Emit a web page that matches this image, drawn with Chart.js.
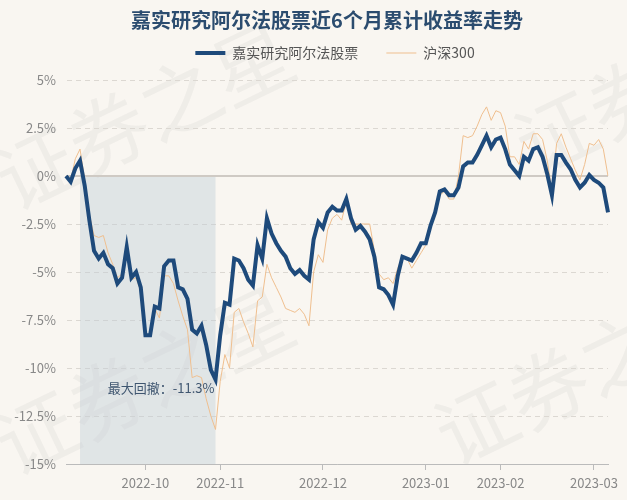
<!DOCTYPE html>
<html>
<head>
<meta charset="utf-8">
<script src="https://cdn.jsdelivr.net/npm/chart.js@4.4.0/dist/chart.umd.min.js"></script>
<style>
    html, body { margin: 0; padding: 0; background: #f9f6f1; }
    #wrap { width: 627px; height: 500px; }
</style>
</head>
<body>
<div id="wrap"><canvas id="trendChart" width="627" height="500"></canvas></div>
<script>
// Datos del gráfico (días hábiles)
const dates = [
    '2022-09-07','2022-09-08','2022-09-09','2022-09-13','2022-09-14','2022-09-15','2022-09-16','2022-09-19','2022-09-20','2022-09-21',
    '2022-09-22','2022-09-23','2022-09-26','2022-09-27','2022-09-28','2022-09-29','2022-09-30',
    '2022-10-10','2022-10-11','2022-10-12','2022-10-13','2022-10-14','2022-10-17','2022-10-18','2022-10-19','2022-10-20',
    '2022-10-21','2022-10-24','2022-10-25','2022-10-26','2022-10-27','2022-10-28','2022-10-31',
    '2022-11-01','2022-11-02','2022-11-03','2022-11-04','2022-11-07','2022-11-08','2022-11-09','2022-11-10','2022-11-11',
    '2022-11-14','2022-11-15','2022-11-16','2022-11-17','2022-11-18','2022-11-21','2022-11-22','2022-11-23','2022-11-24',
    '2022-11-25','2022-11-28','2022-11-29','2022-11-30',
    '2022-12-01','2022-12-02','2022-12-05','2022-12-06','2022-12-07','2022-12-08','2022-12-09','2022-12-12','2022-12-13',
    '2022-12-14','2022-12-15','2022-12-16','2022-12-19','2022-12-20','2022-12-21','2022-12-22','2022-12-23','2022-12-26',
    '2022-12-27','2022-12-28','2022-12-29','2022-12-30',
    '2023-01-03','2023-01-04','2023-01-05','2023-01-06','2023-01-09','2023-01-10','2023-01-11','2023-01-12','2023-01-13',
    '2023-01-16','2023-01-17','2023-01-18','2023-01-19','2023-01-20','2023-01-30','2023-01-31',
    '2023-02-01','2023-02-02','2023-02-03','2023-02-06','2023-02-07','2023-02-08','2023-02-09','2023-02-10','2023-02-13',
    '2023-02-14','2023-02-15','2023-02-16','2023-02-17','2023-02-20','2023-02-21','2023-02-22','2023-02-23','2023-02-24',
    '2023-02-27','2023-02-28',
    '2023-03-01','2023-03-02','2023-03-03','2023-03-06'
];

const fundReturns = [
    0.0, -0.3, 0.4, 0.8, -0.5, -2.3, -3.9, -4.3, -4.0, -4.6,
    -4.8, -5.6, -5.3, -3.7, -5.3, -5.0, -5.8, -8.3, -8.3, -6.8,
    -6.9, -4.7, -4.4, -4.4, -5.8, -5.9, -6.4, -8.0, -8.2, -7.8,
    -8.8, -10.1, -10.6, -8.3, -6.6, -6.7, -4.3, -4.4, -4.8, -5.4,
    -5.7, -3.6, -4.3, -2.2, -3.0, -3.5, -3.9, -4.2, -4.8, -5.1,
    -4.9, -5.2, -5.4, -3.3, -2.4, -2.7, -1.9, -1.6, -1.8, -1.8,
    -1.2, -2.2, -2.8, -2.6, -2.9, -3.3, -4.2, -5.8, -5.9, -6.2,
    -6.7, -5.2, -4.2, -4.3, -4.4, -4.0, -3.5, -3.5, -2.6, -1.9,
    -0.8, -0.7, -1.0, -1.0, -0.6, 0.5, 0.7, 0.7, 1.1, 1.6,
    2.1, 1.5, 1.9, 2.0, 1.4, 0.6, 0.3, 0.0, 1.0, 0.8,
    1.4, 1.5, 1.0, 0.1, -1.0, 1.1, 1.1, 0.7, 0.35, -0.2,
    -0.6, -0.35, 0.05, -0.2, -0.35, -0.6, -1.9
];

const hs300Returns = [
    0.0, -0.2, 0.9, 1.4, -0.2, -2.0, -3.1, -3.2, -3.1, -4.0,
    -4.6, -5.3, -5.1, -4.0, -5.4, -5.3, -6.0, -8.3, -8.3, -6.9,
    -7.4, -5.2, -5.2, -5.6, -6.5, -7.3, -8.0, -10.5, -10.4, -10.5,
    -11.6, -12.5, -13.2, -10.7, -9.3, -10.0, -7.1, -6.9, -7.6, -8.2,
    -8.9, -6.5, -6.3, -4.6, -5.3, -5.8, -6.3, -6.9, -7.0, -7.1,
    -6.9, -7.2, -7.8, -5.0, -4.1, -4.5, -2.8, -2.2, -2.0, -2.3,
    -1.3, -2.5, -2.5, -2.5, -2.5, -2.5, -3.9, -5.1, -5.4, -5.3,
    -5.6, -4.8, -4.2, -4.3, -4.8, -4.4, -4.0, -3.6, -2.6, -2.0,
    -1.0, -0.8, -1.2, -1.2, 0.0, 2.1, 2.0, 2.1, 2.6, 3.2,
    3.6, 2.9, 3.4, 3.3, 2.6, 1.0, 1.0, 0.6, 1.8, 1.4,
    2.2, 2.2, 1.9, 0.8, -0.8, 1.7, 2.2, 1.5, 0.9, 0.3,
    -0.2, 0.6, 1.7, 1.6, 1.9, 1.4, 0.0
];

const monthTicks = ['2022-10', '2022-11', '2022-12', '2023-01', '2023-02', '2023-03'];
const seriesNames = ['嘉实研究阿尔法股票', '沪深300'];
const drawdownText = '最大回撤：-11.3%';

// Índices del pico y del valle (máximo retroceso)
const peakIndex = 3;
const troughIndex = 32;

const FONT = '"Noto Sans CJK SC", "Noto Sans", sans-serif';

// Marca de agua de fondo
const watermarkPlugin = {
    id: 'watermark',
    beforeDraw(chart) {
        const ctx = chart.ctx;
        ctx.save();
        ctx.fillStyle = '#f9f6f1';
        ctx.fillRect(0, 0, chart.width, chart.height);
        ctx.fillStyle = 'rgba(170,170,170,0.12)';
        ctx.font = '80px ' + FONT;
        ctx.textBaseline = 'middle';
        [[0, 185], [520, 150], [0, 450], [440, 440]].forEach(p => {
            ctx.save();
            ctx.translate(p[0], p[1]);
            ctx.rotate(-0.45);
            ctx.fillText('证券之星', 0, 0);
            ctx.restore();
        });
        ctx.restore();
    }
};

// Centrado del título y la leyenda como en el original
const headerShiftPlugin = {
    id: 'headerShift',
    afterLayout(chart) {
        if (chart.titleBlock) {
            chart.titleBlock.left += 23;
            chart.titleBlock.right += 23;
        }
        if (chart.legend) {
            chart.legend.left += 31;
            chart.legend.right += 31;
        }
    }
};

// Zona sombreada del máximo retroceso
const drawdownPlugin = {
    id: 'drawdown',
    beforeDatasetsDraw(chart) {
        const { ctx, scales: { x, y } } = chart;
        const x0 = x.getPixelForValue(peakIndex);
        const x1 = x.getPixelForValue(troughIndex);
        const y0 = y.getPixelForValue(0);
        const y1 = y.getPixelForValue(y.min);
        ctx.save();
        ctx.fillStyle = 'rgba(190, 204, 215, 0.42)';
        ctx.fillRect(x0, y0, x1 - x0, y1 - y0);
        // línea del cero
        ctx.strokeStyle = '#cfcac4';
        ctx.lineWidth = 2;
        ctx.beginPath();
        ctx.moveTo(chart.chartArea.left, y0);
        ctx.lineTo(chart.chartArea.right, y0);
        ctx.stroke();
        ctx.restore();
    },
    afterDatasetsDraw(chart) {
        const { ctx, scales: { x, y } } = chart;
        const tx = x.getPixelForValue(troughIndex);
        const ty = y.getPixelForValue(fundReturns[troughIndex]);
        ctx.save();
        ctx.fillStyle = '#3f5670';
        ctx.font = '13px ' + FONT;
        ctx.textAlign = 'right';
        ctx.textBaseline = 'middle';
        ctx.fillText(drawdownText, tx - 1, ty + 9);
        ctx.restore();
    }
};

new Chart(document.getElementById('trendChart').getContext('2d'), {
    type: 'line',
    data: {
        labels: dates,
        datasets: [
            {
                label: seriesNames[0],
                data: fundReturns,
                borderColor: '#1e4a7b',
                backgroundColor: '#1e4a7b',
                borderWidth: 4,
                pointRadius: 0,
                tension: 0
            },
            {
                label: seriesNames[1],
                data: hs300Returns,
                borderColor: '#efbf8f',
                backgroundColor: '#efbf8f',
                borderWidth: 1,
                pointRadius: 0,
                tension: 0
            }
        ]
    },
    options: {
        responsive: false,
        animation: false,
        layout: {
            padding: { left: 0, right: 19, top: 0, bottom: 0 }
        },
        plugins: {
            title: {
                display: true,
                text: '嘉实研究阿尔法股票近6个月累计收益率走势',
                color: '#2b4c6f',
                font: { family: FONT, size: 20, weight: 'bold', lineHeight: 1.2 },
                padding: { top: 8, bottom: -14 }
            },
            // espacio vacío entre la leyenda y el área del gráfico
            subtitle: {
                display: true,
                text: ' ',
                weight: 500,
                font: { size: 10, lineHeight: 1 },
                padding: 0
            },
            legend: {
                display: true,
                labels: {
                    usePointStyle: true,
                    pointStyle: 'line',
                    pointStyleWidth: 30,
                    color: '#555',
                    font: { family: FONT, size: 14 },
                    padding: 28
                }
            },
            tooltip: { enabled: false }
        },
        scales: {
            x: {
                grid: {
                    drawOnChartArea: false,
                    drawTicks: true,
                    tickLength: 6,
                    color: '#bbbbbb'
                },
                border: { display: true, color: '#bbbbbb', width: 1 },
                ticks: {
                    autoSkip: false,
                    maxRotation: 0,
                    color: '#888',
                    font: { family: FONT, size: 13 },
                    padding: 5,
                    callback: function(value, index) {
                        const m = dates[index].slice(0, 7);
                        const prev = index > 0 ? dates[index - 1].slice(0, 7) : null;
                        if (m !== prev && monthTicks.includes(m)) return m;
                        return null;
                    }
                },
                afterFit: function(axis) { axis.height = 36; }
            },
            y: {
                min: -15,
                max: 5,
                grid: {
                    color: function(c) { return c.tick && c.tick.value === 0 ? 'rgba(0,0,0,0)' : '#dcd8d2'; },
                    lineWidth: 1,
                    drawTicks: false
                },
                border: { display: true, color: 'rgba(0,0,0,0)', dash: [5, 4] },
                ticks: {
                    stepSize: 2.5,
                    color: '#888',
                    font: { family: FONT, size: 13 },
                    padding: 10,
                    callback: function(v) { return v + '%'; }
                },
                afterFit: function(axis) { axis.width = 66; }
            }
        }
    },
    plugins: [watermarkPlugin, headerShiftPlugin, drawdownPlugin]
});
</script>
</body>
</html>
